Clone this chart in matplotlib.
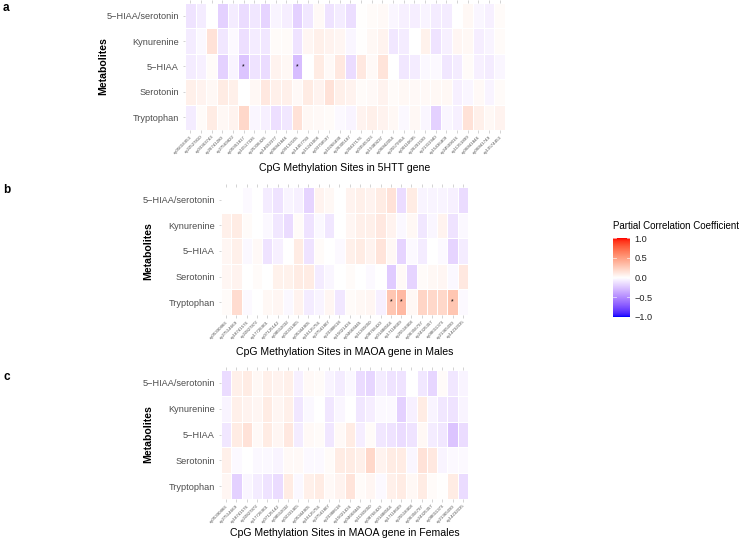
import numpy as np
import matplotlib
matplotlib.use("Agg")
import matplotlib.pyplot as plt
from matplotlib.colors import ListedColormap

plt.rcParams['font.family'] = ['Liberation Sans', 'DejaVu Sans']

# ---------------- data ----------------
metabolites = ["5\u2212HIAA/serotonin", "Kynurenine", "5\u2212HIAA", "Serotonin", "Tryptophan"]

sites_5htt = ["cg05016953", "cg22527810", "cg03363743", "cg26741280", "cg27569822",
              "cg05951817", "cg10517336", "cg25306426", "cg14692377", "cg06841846",
              "cg09132105", "cg14457790", "cg15241008", "cg03758597", "cg10266490",
              "cg26305187", "cg20437176", "cg03565323", "cg19389237", "cg06842054",
              "cg25579954", "cg00110695", "cg26201590", "cg21311940", "cg15436409",
              "cg24509016", "cg11351899", "cg06841846", "cg06841749", "cg13574453"]

sites_maoa = ["cg05390866", "cg27514669", "cg18741576", "cg22827872", "cg17726901",
              "cg07125142", "cg08552032", "cg02331405", "cg05344905", "cg16125756",
              "cg27541807", "cg23388618", "cg15021434", "cg04668445", "cg11365050",
              "cg08766420", "cg01488504", "cg17118609", "cg25518408", "cg06356797",
              "cg24325357", "cg08011373", "cg21365090", "cg14232035"]

vals_5htt = [
    [-0.12, -0.08, 0.00, -0.20, -0.08, -0.15, -0.10, -0.18, -0.05, -0.07,
     -0.20, -0.10, 0.03, -0.12, -0.08, -0.14, 0.01, 0.02, 0.03, -0.04,
     -0.06, -0.07, -0.05, -0.08, -0.08, 0.00, 0.04, -0.04, -0.06, 0.02],
    [-0.08, -0.03, 0.15, -0.10, -0.02, -0.13, -0.08, -0.10, 0.02, 0.02,
     -0.12, 0.05, 0.08, 0.06, 0.05, -0.04, 0.01, 0.04, 0.06, -0.10,
     -0.08, 0.00, 0.07, -0.12, -0.06, 0.05, 0.04, -0.07, -0.05, 0.02],
    [-0.08, -0.06, 0.02, -0.20, -0.05, -0.25, -0.12, -0.15, 0.06, 0.04,
     -0.28, 0.00, 0.10, 0.03, 0.12, -0.15, 0.12, 0.03, 0.14, 0.00,
     -0.10, -0.08, -0.03, -0.02, -0.10, -0.08, 0.02, -0.06, -0.08, -0.04],
    [0.08, 0.06, 0.04, 0.10, 0.08, 0.00, 0.04, 0.12, 0.08, 0.08,
     0.03, 0.10, 0.06, 0.15, 0.08, 0.06, 0.02, 0.03, 0.06, 0.02,
     0.04, 0.03, 0.03, 0.04, 0.04, -0.06, -0.04, 0.03, -0.05, 0.02],
    [-0.08, 0.02, 0.10, 0.04, 0.06, 0.20, -0.04, -0.06, -0.13, -0.10,
     0.15, 0.04, 0.03, 0.02, -0.02, -0.05, 0.06, 0.08, 0.06, 0.04,
     -0.03, 0.04, -0.04, -0.20, -0.04, -0.06, 0.15, 0.08, 0.04, 0.06],
]
stars_5htt = [(2, 5), (2, 10)]

vals_males = [
    [0.00, 0.00, -0.02, 0.00, -0.08, -0.12, -0.05, -0.06, -0.18, 0.06,
     0.04, 0.00, 0.06, 0.08, 0.06, 0.10, 0.15, -0.15, 0.10, -0.05,
     -0.05, -0.05, -0.06, -0.15],
    [0.08, 0.10, 0.02, 0.00, -0.03, -0.10, -0.15, 0.02, -0.12, -0.03,
     -0.10, 0.00, 0.05, 0.08, 0.08, 0.12, 0.06, -0.03, 0.04, -0.10,
     -0.04, 0.06, -0.12, -0.03],
    [0.05, 0.08, -0.03, 0.03, -0.12, -0.06, 0.00, 0.10, -0.12, 0.02,
     0.00, -0.02, 0.08, 0.10, 0.06, 0.14, 0.04, -0.18, -0.02, -0.08,
     0.00, -0.02, -0.18, -0.08],
    [0.05, 0.06, 0.00, 0.02, 0.00, 0.07, 0.07, 0.10, 0.10, -0.08,
     -0.04, 0.00, 0.02, 0.00, -0.02, 0.00, -0.22, 0.03, -0.18, 0.02,
     0.04, 0.05, -0.03, 0.12],
    [0.02, 0.18, -0.02, 0.00, 0.04, 0.05, -0.03, 0.06, -0.08, -0.05,
     0.05, -0.10, 0.02, 0.04, 0.05, -0.06, 0.30, 0.36, 0.04, 0.22,
     0.20, 0.20, 0.30, -0.02],
]
stars_males = [(4, 16), (4, 17), (4, 22)]

vals_females = [
    [-0.15, 0.08, 0.10, 0.04, 0.08, 0.06, 0.08, -0.06, 0.03, 0.02,
     -0.05, -0.08, -0.03, -0.15, -0.17, -0.08, -0.12, -0.12, 0.00, -0.10,
     -0.17, 0.02, -0.10, -0.05],
    [-0.05, 0.08, 0.06, 0.05, 0.10, 0.05, 0.08, -0.10, -0.03, 0.00,
     -0.10, -0.04, 0.00, -0.10, -0.07, -0.02, -0.02, -0.20, -0.06, 0.10,
     -0.05, -0.10, -0.12, -0.05],
    [-0.10, 0.10, 0.15, 0.03, 0.10, 0.05, 0.12, -0.08, 0.03, 0.02,
     -0.10, 0.03, 0.10, -0.07, 0.02, -0.10, -0.12, -0.15, -0.12, 0.04,
     -0.08, -0.10, -0.25, -0.15],
    [0.08, -0.02, 0.00, -0.03, -0.03, -0.05, 0.03, 0.03, -0.02, -0.02,
     0.02, 0.10, 0.10, 0.08, 0.20, 0.06, 0.10, 0.10, -0.04, 0.15,
     0.12, -0.05, -0.02, -0.02],
    [0.05, -0.20, -0.04, -0.08, -0.12, -0.15, 0.10, -0.03, 0.08, 0.10,
     0.03, 0.06, 0.14, 0.02, 0.05, -0.02, 0.08, 0.10, 0.04, 0.10,
     0.02, 0.01, 0.10, -0.15],
]
stars_females = []

titles = ["CpG Methylation Sites in 5HTT gene",
          "CpG Methylation Sites in MAOA gene in Males",
          "CpG Methylation Sites in MAOA gene in Females"]
panel_letters = ["a", "b", "c"]
legend_title = "Partial Correlation Coefficient"
legend_ticks = [-1.0, -0.5, 0.0, 0.5, 1.0]

# ---------------- colormap (Lab interpolation like ggplot gradient2) ----------------
def lab_to_rgb(L, a, b):
    fy = (L + 16) / 116.0
    fx = fy + a / 500.0
    fz = fy - b / 200.0
    def finv(t):
        return np.where(t > 6 / 29, t ** 3, 3 * (6 / 29) ** 2 * (t - 4 / 29))
    X = 0.95047 * finv(fx)
    Y = 1.00000 * finv(fy)
    Z = 1.08883 * finv(fz)
    M = np.array([[3.2406, -1.5372, -0.4986],
                  [-0.9689, 1.8758, 0.0415],
                  [0.0557, -0.2040, 1.0570]])
    rgb = M @ np.vstack([X, Y, Z])
    rgb = np.where(rgb <= 0.0031308, 12.92 * rgb, 1.055 * np.clip(rgb, 0, None) ** (1 / 2.4) - 0.055)
    return np.clip(rgb.T, 0, 1)

lab_blue = np.array([32.30, 79.19, -107.86])
lab_white = np.array([100.0, 0.0, 0.0])
lab_red = np.array([53.24, 80.09, 67.20])
t = np.linspace(0, 1, 128)[:, None]
low = lab_blue + (lab_white - lab_blue) * t
high = lab_white + (lab_red - lab_white) * t
labs = np.vstack([low, high[1:]])
cmap = ListedColormap(lab_to_rgb(labs[:, 0], labs[:, 1], labs[:, 2]))

# ---------------- figure ----------------
W, H = 751, 541
fig = plt.figure(figsize=(W / 100, H / 100), dpi=100)
fig.patch.set_facecolor("white")

def px_axes(left, top, right, bottom):
    return fig.add_axes([left / W, 1 - bottom / H, (right - left) / W, (bottom - top) / H])

panels = [
    (sites_5htt, vals_5htt, stars_5htt, (185, 3, 505, 130), 168, 103),
    (sites_maoa, vals_males, stars_males, (221, 187, 468, 315), 352, 148),
    (sites_maoa, vals_females, stars_females, (221, 370, 468, 499), 533, 148),
]
letter_y = [8, 190, 377]

tick_col = "#b3b3b3"
for i, (sites, vals, stars, box, title_y, ylab_x) in enumerate(panels):
    ax = px_axes(*box)
    arr = np.array(vals)[::-1]  # first metabolite on top
    nrow, ncol = arr.shape
    ax.pcolormesh(np.arange(ncol + 1), np.arange(nrow + 1), arr, cmap=cmap, vmin=-1, vmax=1,
                  edgecolors="white", linewidth=0.5)
    for (r, c) in stars:
        ax.text(c + 0.5, nrow - r - 0.5, "*", ha="center", va="center", fontsize=5, color="black")
    ax.set_xlim(0, ncol)
    ax.set_ylim(0, nrow)
    for s in ax.spines.values():
        s.set_visible(False)
    ax.set_xticks(np.arange(ncol) + 0.5)
    ax.set_xticklabels(sites, rotation=45, ha="right", rotation_mode="anchor",
                       fontsize=3.2, color="#4d4d4d")
    ax.set_yticks(np.arange(nrow) + 0.5)
    ax.set_yticklabels(metabolites[::-1], fontsize=6.6, color="#4d4d4d")
    ax.tick_params(axis="x", length=2, width=0.4, color=tick_col, pad=1.5,
                   top=True, bottom=True)
    ax.tick_params(axis="y", length=1.5, width=0.4, color=tick_col, pad=3)
    cx = (box[0] + box[2]) / 2
    fig.text(cx / W, 1 - title_y / H, titles[i], ha="center", va="center", fontsize=7.6, color="black")
    fig.text(ylab_x / W, 1 - ((box[1] + box[3]) / 2) / H, "Metabolites", rotation=90,
             ha="center", va="center", fontsize=7.6, fontweight="bold", color="black")
    fig.text(3 / W, 1 - letter_y[i] / H, panel_letters[i], ha="left", va="center",
             fontsize=8.5, fontweight="bold", color="black")

# ---------------- colorbar legend ----------------
cax = px_axes(613, 237, 630, 318)
grad = np.linspace(-1, 1, 256)[:, None]
cax.imshow(grad, aspect="auto", cmap=cmap, vmin=-1, vmax=1, origin="lower",
           extent=[0, 1, -1, 1])
cax.set_xlim(0, 1)
cax.set_ylim(-1.03, 1.03)
for s in cax.spines.values():
    s.set_visible(False)
cax.set_xticks([])
cax.yaxis.tick_right()
cax.set_yticks(legend_ticks)
cax.set_yticklabels([("\u2212" if v < 0 else "") + f"{abs(v):.1f}" for v in legend_ticks],
                    fontsize=6.6, color="#222222")
cax.tick_params(axis="y", length=0, pad=3)
for v in legend_ticks:
    cax.plot([0, 0.2], [v, v], color="white", lw=0.6, alpha=0.7)
    cax.plot([0.8, 1], [v, v], color="white", lw=0.6, alpha=0.7)
fig.text(613 / W, 1 - 226 / H, legend_title, ha="left", va="center", fontsize=7.0, color="black")

fig.savefig("out.png", dpi=100, facecolor="white")
